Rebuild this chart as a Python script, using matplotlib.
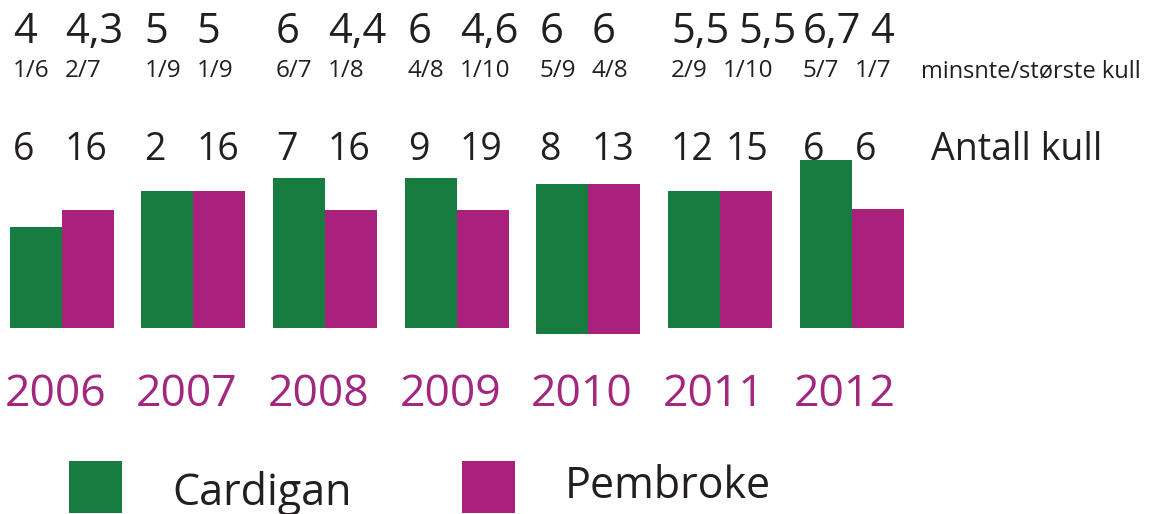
import numpy as np
import matplotlib
matplotlib.use("Agg")
import matplotlib.pyplot as plt
from matplotlib.patches import Rectangle
from matplotlib import transforms

plt.rcParams['font.family'] = ['Open Sans', 'DejaVu Sans']

# Data
years = ["2006", "2007", "2008", "2009", "2010", "2011", "2012"]
cardigan_avg = [4, 5, 6, 6, 6, 5.5, 6.7]          # average litter size
pembroke_avg = [4.3, 5, 4.4, 4.6, 6, 5.5, 4]
cardigan_min = [1, 1, 6, 4, 5, 2, 5]
cardigan_max = [6, 9, 7, 8, 9, 9, 7]
pembroke_min = [2, 1, 1, 1, 4, 1, 1]
pembroke_max = [7, 9, 8, 10, 8, 10, 7]
cardigan_litters = [6, 2, 7, 9, 8, 12, 6]        # "Antall kull"
pembroke_litters = [16, 16, 16, 19, 13, 15, 6]
# bar heights as drawn in the graphic (litter-size units)
cardigan_bar = [4.03, 5.45, 6.0, 6.0, 6.0, 5.45, 6.7]
pembroke_bar = [4.7, 5.45, 4.7, 4.7, 6.0, 5.45, 4.75]
bar_shift = [0, 0, 0, 0, -0.26, 0, 0]

GREEN = "#177c3f"
PURPLE = "#aa217b"
YEAR_COLOR = "#a3267f"
TEXT = "#231f20"

W, H = 1159, 514
fig = plt.figure(figsize=(W / 100, H / 100), dpi=100)
ax = fig.add_axes([0, 0, 1, 1])
# 1 group = 131.67 px, 1 unit of height = 25 px, baseline 327.7 px from top
ax.set_xlim(-61.7 / 131.67, (W - 61.7) / 131.67)
ax.set_ylim(-(H - 327.7) / 25, 327.7 / 25)
ax.axis("off")

x = np.arange(len(years))
w = 0.395
ax.bar(x - w / 2, cardigan_bar, width=w, bottom=bar_shift, color=GREEN, linewidth=0)
ax.bar(x + w / 2, pembroke_bar, width=w, bottom=bar_shift, color=PURPLE, linewidth=0)

def fy(py):
    return 1 - py / H

tr = transforms.blended_transform_factory(ax.transData, fig.transFigure)
off = 3 / 131.67
renderer = fig.canvas.get_renderer()

def fmt(v):
    return f"{v:g}".replace(".", ",")

def label_pair(i, left_txt, right_txt, py, size, gap_px):
    # cardigan label at its bar's left edge, pembroke label at its bar's
    # left edge or pushed right so the two never touch
    t1 = ax.text(i - w + off, fy(py), left_txt, transform=tr, fontsize=size,
                 color=TEXT, va="baseline", ha="left")
    right_edge = t1.get_window_extent(renderer).x1 + gap_px
    x_min = ax.transData.inverted().transform((right_edge, 0))[0]
    ax.text(max(i + off, x_min), fy(py), right_txt, transform=tr, fontsize=size,
            color=TEXT, va="baseline", ha="left")

for i in range(len(years)):
    label_pair(i, fmt(cardigan_avg[i]), fmt(pembroke_avg[i]), 43, 30, 9)
    label_pair(i, f"{cardigan_min[i]}/{cardigan_max[i]}",
               f"{pembroke_min[i]}/{pembroke_max[i]}", 77, 17.5, 10)
    label_pair(i, str(cardigan_litters[i]), str(pembroke_litters[i]), 160, 27, 12)
    ax.text(i - 0.05, fy(406), years[i], transform=tr, fontsize=32,
            color=YEAR_COLOR, va="baseline", ha="center")

fig.text(921 / W, fy(77), "minsnte/største kull", fontsize=17, color=TEXT,
         va="baseline", ha="left")
fig.text(931 / W, fy(160), "Antall kull", fontsize=27, color=TEXT,
         va="baseline", ha="left")

# legend
for left, col, label, base in [(69, GREEN, "Cardigan", 505), (462, PURPLE, "Pembroke", 498)]:
    fig.patches.append(Rectangle((left / W, fy(513)), 53 / W, 52 / H,
                                 transform=fig.transFigure, color=col, lw=0))
    fig.text((left + 103) / W, fy(base), label, fontsize=31, color=TEXT,
             va="baseline", ha="left")

fig.savefig("out.png", dpi=100)
